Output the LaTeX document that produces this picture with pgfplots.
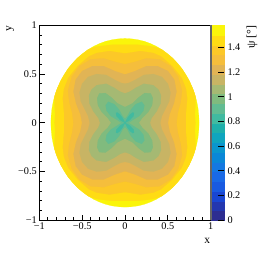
\documentclass[border=0pt]{standalone}
\usepackage{fontspec}
\setmainfont{Liberation Serif}
\usepackage{pgfplots}
\usepackage{pgfplotstable}
\pgfplotsset{compat=1.18}
\definecolor{c0}{RGB}{45,45,145}
\definecolor{c1}{RGB}{35,55,175}
\definecolor{c2}{RGB}{25,70,210}
\definecolor{c3}{RGB}{25,90,225}
\definecolor{c4}{RGB}{25,105,230}
\definecolor{c5}{RGB}{20,120,225}
\definecolor{c6}{RGB}{10,135,215}
\definecolor{c7}{RGB}{10,150,205}
\definecolor{c8}{RGB}{15,165,190}
\definecolor{c9}{RGB}{30,175,170}
\definecolor{c10}{RGB}{65,186,160}
\definecolor{c11}{RGB}{98,188,146}
\definecolor{c12}{RGB}{128,187,126}
\definecolor{c13}{RGB}{165,185,115}
\definecolor{c14}{RGB}{200,180,100}
\definecolor{c15}{RGB}{225,180,85}
\definecolor{c16}{RGB}{245,190,60}
\definecolor{c17}{RGB}{252,200,40}
\definecolor{c18}{RGB}{255,220,20}
\definecolor{c19}{RGB}{250,245,10}
\pgfplotstableread{
x y
0 0
.865 0
.861 .075
.852 .150
.836 .224
.813 .296
.784 .366
.749 .4325
.709 .496
.663 .556
.612 .612
.556 .663
.496 .709
.4325 .749
.366 .784
.296 .813
.224 .836
.150 .852
.075 .861
0 .865
}\tabA
\pgfplotstableread{
x y
0 0
.82 0
.815 .09
.82 .18
.825 .26
.80 .33
.749 .4325
.663 .556
.556 .663
.4325 .749
.36 .775
.30 .785
.15 .80
0 .80
}\tabB
\pgfplotstableread{
x y
0 0
.71 0
.71 .1
.725 .25
.71 .35
.66 .46
.55 .58
.42 .68
.33 .715
.18 .735
0 .71
}\tabC
\pgfplotstableread{
x y
0 0
.60 0
.615 .1
.65 .22
.665 .33
.62 .47
.53 .58
.40 .65
.25 .66
.12 .625
0 .60
}\tabD
\pgfplotstableread{
x y
0 0
.50 0
.52 .09
.57 .2
.60 .32
.575 .44
.50 .53
.38 .58
.25 .58
.12 .53
0 .495
}\tabE
\pgfplotstableread{
x y
0 0
.41 0
.43 .07
.47 .14
.515 .22
.53 .31
.50 .40
.43 .47
.33 .50
.22 .49
.12 .44
.05 .41
0 .40
}\tabF
\pgfplotstableread{
x y
0 0
.29 0
.31 .05
.37 .12
.415 .20
.42 .28
.39 .34
.33 .385
.22 .40
.13 .36
.06 .32
0 .30
}\tabG
\pgfplotstableread{
x y
0 0
.16 0
.20 .05
.27 .11
.315 .18
.325 .25
.30 .30
.23 .305
.16 .26
.09 .20
0 .16
}\tabH
\pgfplotstableread{
x y
0 0
.04 0
.09 .03
.165 .07
.215 .125
.225 .18
.195 .215
.125 .19
.07 .135
.03 .07
0 .04
}\tabI
\pgfplotstableread{
x y
0 0
.05 .025
.10 .07
.105 .10
.09 .105
.06 .085
.03 .05
0 0
}\tabJ
\newcommand{\quadplot}[2]{%
\addplot[fill=#2,draw=#2,line width=.2pt] table[x expr=\thisrow{x},y expr=\thisrow{y}]{#1} -- cycle;
\addplot[fill=#2,draw=#2,line width=.2pt] table[x expr=-\thisrow{x},y expr=\thisrow{y}]{#1} -- cycle;
\addplot[fill=#2,draw=#2,line width=.2pt] table[x expr=\thisrow{x},y expr=-\thisrow{y}]{#1} -- cycle;
\addplot[fill=#2,draw=#2,line width=.2pt] table[x expr=-\thisrow{x},y expr=-\thisrow{y}]{#1} -- cycle;
}
\newcommand{\band}[3]{\addplot[fill=#1,draw=#1,line width=.1pt] coordinates {(0,#2)(1,#2)(1,#3)(0,#3)} -- cycle;}
\begin{document}
\begin{tikzpicture}[x=1bp,y=1bp]
\path[use as bounding box] (0,0) rectangle (264,260);
\begin{axis}[
 at={(39.3bp,39.7bp)},anchor=south west,scale only axis,
 width=171.4bp,height=195bp,
 xmin=-1,xmax=1,ymin=-1,ymax=1,
 axis on top,
 axis line style={line width=1.2bp,black},
 xtick={-1,-.5,0,.5,1},xticklabels={−1,−0.5,0,0.5,1},
 ytick={-1,-.5,0,.5,1},yticklabels={−1,−0.5,0,0.5,1},
 minor tick num=4,
 xtick pos=lower,ytick pos=left,tick align=inside,
 tick style={black,line width=.9bp},
 major tick length=5.5bp,minor tick length=3bp,
 ticklabel style={font=\fontsize{10.3}{11}\selectfont},
 xticklabel style={yshift=1.5bp},
 yticklabel style={xshift=1bp},
 xlabel={x},ylabel={y},
 label style={font=\fontsize{11.5}{12}\selectfont},
 xlabel style={at={(axis description cs:0.98,-0.09)},anchor=north,inner sep=0pt},
 ylabel style={at={(axis description cs:-0.17,1)},anchor=east,rotate=0,inner sep=0pt},
]
\quadplot{\tabA}{c19}
\quadplot{\tabB}{c18}
\quadplot{\tabC}{c17}
\quadplot{\tabD}{c16}
\quadplot{\tabE}{c15}
\quadplot{\tabF}{c14}
\quadplot{\tabG}{c13}
\quadplot{\tabH}{c12}
\quadplot{\tabI}{c11}
\quadplot{\tabJ}{c10}
\end{axis}
\begin{axis}[
 at={(210.7bp,39.7bp)},anchor=south west,scale only axis,
 width=13.3bp,height=195bp,
 xmin=0,xmax=1,ymin=0,ymax=1.578,
 axis on top,
 axis line style={draw=none},
 xtick=\empty,
 ytick={0,.2,.4,.6,.8,1,1.2,1.4},yticklabels={0,0.2,0.4,0.6,0.8,1,1.2,1.4},
 ytick pos=right,yticklabel pos=right,tick align=inside,
 tick style={black,line width=.9bp},
 major tick length=6bp,
 ticklabel style={font=\fontsize{10.3}{11}\selectfont},
 yticklabel style={xshift=0bp},
 ylabel={ψ [°]},
 ylabel near ticks,ylabel style={font=\fontsize{12}{13}\selectfont,at={(axis description cs:3.1,1)},anchor=east,inner sep=0pt},
 clip=false,
]
\band{c0}{0}{.0789}
\band{c1}{.0789}{.1578}
\band{c2}{.1578}{.2367}
\band{c3}{.2367}{.3156}
\band{c4}{.3156}{.3945}
\band{c5}{.3945}{.4734}
\band{c6}{.4734}{.5523}
\band{c7}{.5523}{.6312}
\band{c8}{.6312}{.7101}
\band{c9}{.7101}{.789}
\band{c10}{.789}{.8679}
\band{c11}{.8679}{.9468}
\band{c12}{.9468}{1.0257}
\band{c13}{1.0257}{1.1046}
\band{c14}{1.1046}{1.1835}
\band{c15}{1.1835}{1.2624}
\band{c16}{1.2624}{1.3413}
\band{c17}{1.3413}{1.4202}
\band{c18}{1.4202}{1.4991}
\band{c19}{1.4991}{1.578}
\addplot[color=black!60,line width=1.6bp] coordinates {(0,0)(0,1.578)};
\end{axis}
\end{tikzpicture}
\end{document}
